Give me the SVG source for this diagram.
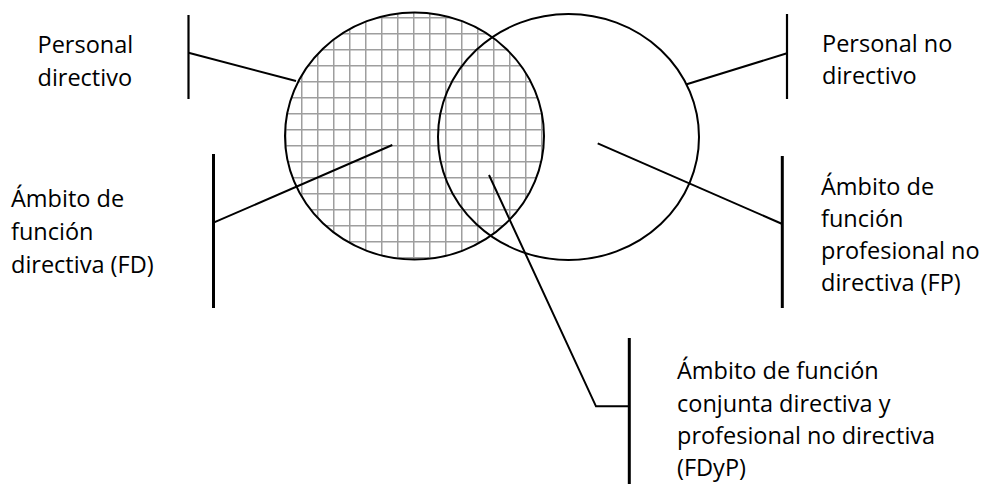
<svg xmlns="http://www.w3.org/2000/svg" width="983" height="485" viewBox="0 0 983 485">
  <style>
    .lbl { font-family: "Open Sans", "Noto Sans", "Liberation Sans", sans-serif; font-size: 23.5px; fill: #000; }
    .ring { fill: none; stroke: #000; stroke-width: 2; }
    .lead { fill: none; stroke: #000; stroke-width: 2; stroke-linejoin: miter; }
    .bar { stroke: #000; stroke-width: 2.2; }
    .bar-thick { stroke: #000; stroke-width: 3; }
  </style>
  <defs>
    <!-- square grid used to hatch the "directivo" set -->
    <pattern id="grid" patternUnits="userSpaceOnUse" x="0" y="0" width="16" height="16">
      <rect width="16" height="16" fill="#fff"/>
      <path d="M13.75 0V16M0 1.75H16" stroke="#9e9e9e" stroke-width="1.5"/>
    </pattern>
  </defs>

  <rect width="983" height="485" fill="#fff"/>

  <!-- Venn sets -->
  <g id="set-fd">
    <ellipse cx="414.5" cy="136" rx="129.5" ry="123.5" fill="url(#grid)"/>
  </g>
  <g id="set-fp">
    <ellipse cx="568.5" cy="137" rx="130.5" ry="123" fill="none"/>
  </g>
  <g id="set-outlines">
    <ellipse class="ring" cx="414.5" cy="136" rx="129.5" ry="123.5"/>
    <ellipse class="ring" cx="568.5" cy="137" rx="130.5" ry="123"/>
  </g>

  <!-- leader lines with their label brackets -->
  <g id="connectors">
    <line class="bar" x1="188.5" y1="15" x2="188.5" y2="99"/>
    <line class="lead" x1="188.5" y1="52.7" x2="296" y2="81"/>

    <line class="bar-thick" x1="213.5" y1="154" x2="213.5" y2="308"/>
    <line class="lead" x1="213.5" y1="222.7" x2="392.3" y2="145"/>

    <line class="bar" x1="787" y1="14" x2="787" y2="99"/>
    <line class="lead" x1="787" y1="53.3" x2="686.7" y2="84.3"/>

    <line class="bar-thick" x1="782.3" y1="156" x2="782.3" y2="308"/>
    <line class="lead" x1="597.7" y1="143.3" x2="782.3" y2="224"/>

    <line class="bar-thick" x1="629.3" y1="338" x2="629.3" y2="484"/>
    <polyline class="lead" points="489,175 596,406.3 629.3,406.3"/>
  </g>

  <!-- labels -->
  <g id="personal-directivo">
    <text class="lbl" x="37.5" y="52.5">Personal</text>
    <text class="lbl" x="37.5" y="85.5">directivo</text>
  </g>
  <g id="ambito-fd">
    <text class="lbl" x="11" y="207">Ámbito de</text>
    <text class="lbl" x="11" y="240">función</text>
    <text class="lbl" x="11" y="272.5">directiva (FD)</text>
  </g>
  <g id="personal-no-directivo">
    <text class="lbl" x="822" y="52">Personal no</text>
    <text class="lbl" x="822" y="84">directivo</text>
  </g>
  <g id="ambito-fp">
    <text class="lbl" x="821" y="195">Ámbito de</text>
    <text class="lbl" x="821" y="227">función</text>
    <text class="lbl" x="821" y="259">profesional no</text>
    <text class="lbl" x="821" y="291">directiva (FP)</text>
  </g>
  <g id="ambito-fdyp">
    <text class="lbl" x="677" y="379">Ámbito de función</text>
    <text class="lbl" x="677" y="411.5">conjunta directiva y</text>
    <text class="lbl" x="677" y="444">profesional no directiva</text>
    <text class="lbl" x="677" y="476">(FDyP)</text>
  </g>
</svg>
